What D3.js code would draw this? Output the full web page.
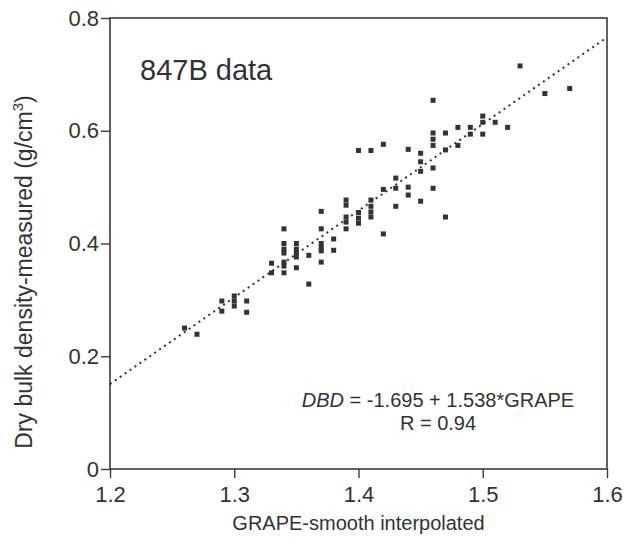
<!DOCTYPE html>
<html>
<head>
<meta charset="utf-8">
<script src="https://cdn.jsdelivr.net/npm/d3@7"></script>
<style>
  body { margin: 0; background: #fff; }
  text { font-family: "Liberation Sans", Arial, sans-serif; fill: #333; }
</style>
</head>
<body>
<script>
// measured points (GRAPE, DBD)
var grape = [1.26, 1.27, 1.29, 1.29, 1.30, 1.30, 1.30, 1.31, 1.31, 1.33, 1.33,
  1.34, 1.34, 1.34, 1.34, 1.34, 1.34, 1.34, 1.35, 1.35, 1.35, 1.35, 1.35, 1.36, 1.36,
  1.37, 1.37, 1.37, 1.37, 1.37, 1.37, 1.38, 1.38, 1.39, 1.39, 1.39, 1.39, 1.39,
  1.40, 1.40, 1.40, 1.40, 1.41, 1.41, 1.41, 1.41, 1.41, 1.42, 1.42, 1.42,
  1.43, 1.43, 1.43, 1.44, 1.44, 1.44, 1.45, 1.45, 1.45, 1.45,
  1.46, 1.46, 1.46, 1.46, 1.46, 1.46, 1.47, 1.47, 1.47, 1.48, 1.48, 1.49, 1.49,
  1.50, 1.50, 1.50, 1.51, 1.52, 1.53, 1.55, 1.57];
var dbd = [0.250, 0.239, 0.298, 0.280, 0.307, 0.298, 0.289, 0.298, 0.278, 0.365, 0.348,
  0.426, 0.400, 0.390, 0.383, 0.367, 0.360, 0.348, 0.400, 0.390, 0.383, 0.376, 0.357, 0.379, 0.328,
  0.457, 0.426, 0.400, 0.392, 0.387, 0.367, 0.408, 0.388, 0.477, 0.468, 0.447, 0.438, 0.426,
  0.565, 0.455, 0.445, 0.436, 0.565, 0.477, 0.466, 0.456, 0.447, 0.576, 0.496, 0.417,
  0.516, 0.498, 0.466, 0.567, 0.500, 0.486, 0.560, 0.545, 0.528, 0.475,
  0.654, 0.596, 0.585, 0.574, 0.534, 0.498, 0.596, 0.566, 0.447, 0.606, 0.574, 0.606, 0.594,
  0.626, 0.615, 0.594, 0.615, 0.606, 0.715, 0.666, 0.675];

// regression DBD = a + b*GRAPE
var intercept = -1.695, slope = 1.538;

var xTicks = [1.2, 1.3, 1.4, 1.5, 1.6];
var yTicks = [0, 0.2, 0.4, 0.6, 0.8];

var width = 629, height = 543;
var margin = { top: 18, right: 22, bottom: 74, left: 110 };

var x = d3.scaleLinear().domain([1.2, 1.6]).range([margin.left, width - margin.right]);
var y = d3.scaleLinear().domain([0, 0.8]).range([height - margin.bottom, margin.top]);

var svg = d3.select("body").append("svg")
  .attr("width", width)
  .attr("height", height);

var ink = "#3a3a3a";

// frame
svg.append("rect")
  .attr("x", x(1.2)).attr("y", y(0.8))
  .attr("width", x(1.6) - x(1.2)).attr("height", y(0) - y(0.8))
  .attr("fill", "none").attr("stroke", ink).attr("stroke-width", 1.6);

// x axis
var xAxis = svg.append("g").attr("transform", "translate(0," + y(0) + ")");
xAxis.call(d3.axisBottom(x).tickValues(d3.range(1.2, 1.601, 0.05)).tickSize(5).tickFormat(""));
xAxis.call(d3.axisBottom(x).tickValues(xTicks).tickSize(9).tickPadding(8).tickFormat(d3.format(".1f")));
xAxis.selectAll(".domain").remove();
xAxis.selectAll("line").attr("stroke", ink).attr("stroke-width", 1.4);
xAxis.selectAll("text").attr("font-size", 22).attr("fill", "#333");

// y axis
var yAxis = svg.append("g").attr("transform", "translate(" + x(1.2) + ",0)");
yAxis.call(d3.axisLeft(y).tickValues(d3.range(0, 0.801, 0.1)).tickSize(5).tickFormat(""));
yAxis.call(d3.axisLeft(y).tickValues(yTicks).tickSize(9).tickPadding(2)
  .tickFormat(function (d) { return d === 0 ? "0" : d3.format(".1f")(d); }));
yAxis.selectAll(".domain").remove();
yAxis.selectAll("line").attr("stroke", ink).attr("stroke-width", 1.4);
yAxis.selectAll("text").attr("font-size", 22).attr("fill", "#333");

// regression line, dotted
var fit = d3.line()
  .x(function (g) { return x(g); })
  .y(function (g) { return y(intercept + slope * g); });
svg.append("path")
  .datum([1.2, 1.6])
  .attr("d", fit)
  .attr("fill", "none")
  .attr("stroke", "#333")
  .attr("stroke-width", 2)
  .attr("stroke-dasharray", "2,4");

// points
var pts = grape.map(function (g, i) { return [g, dbd[i]]; });
svg.append("g").selectAll("rect")
  .data(pts)
  .enter().append("rect")
  .attr("x", function (d) { return x(d[0]) - 2.5; })
  .attr("y", function (d) { return y(d[1]) - 2.5; })
  .attr("width", 5).attr("height", 5)
  .attr("fill", "#333");

// labels
svg.append("text")
  .attr("x", 140).attr("y", 80)
  .attr("font-size", 29)
  .text("847B data");

var eq = svg.append("text")
  .attr("x", 438).attr("y", 407)
  .attr("text-anchor", "middle")
  .attr("font-size", 20);
eq.append("tspan").attr("font-style", "italic").text("DBD");
eq.append("tspan").text(" = -1.695 + 1.538*GRAPE");

svg.append("text")
  .attr("x", 438).attr("y", 430)
  .attr("text-anchor", "middle")
  .attr("font-size", 20)
  .text("R = 0.94");

svg.append("text")
  .attr("x", (x(1.2) + x(1.6)) / 2).attr("y", 530)
  .attr("text-anchor", "middle")
  .attr("font-size", 20)
  .text("GRAPE-smooth interpolated");

var yl = svg.append("text")
  .attr("transform", "translate(32,272) rotate(-90)")
  .attr("text-anchor", "middle")
  .attr("font-size", 23);
yl.append("tspan").text("Dry bulk density-measured (g/cm");
yl.append("tspan").attr("font-size", 15).attr("dy", -9).text("3");
yl.append("tspan").attr("dy", 9).text(")");
</script>
</body>
</html>
